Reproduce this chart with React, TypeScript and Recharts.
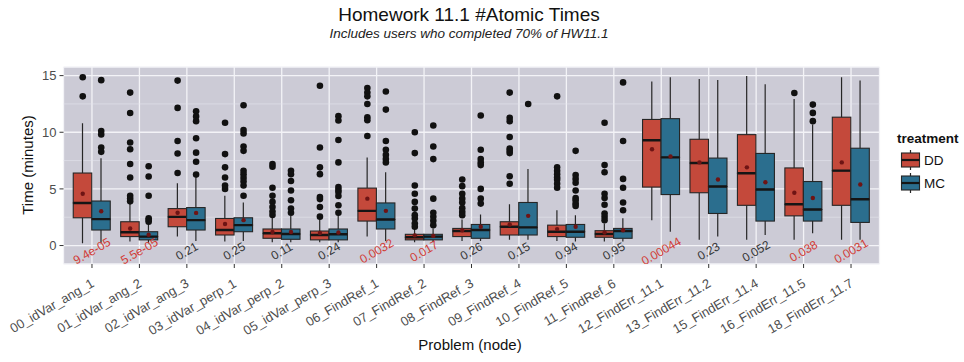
import React from 'react';
import { ComposedChart, Bar, Scatter, XAxis, YAxis, CartesianGrid } from 'recharts';

const categories = [
  '00_idVar_ang_1', '01_idVar_ang_2', '02_idVar_ang_3', '03_idVar_perp_1', '04_idVar_perp_2',
  '05_idVar_perp_3', '06_FindRef_1', '07_FindRef_2', '08_FindRef_3', '09_FindRef_4',
  '10_FindRef_5', '11_FindRef_6', '12_FindErr_11.1', '13_FindErr_11.2', '15_FindErr_11.4',
  '16_FindErr_11.5', '18_FindErr_11.7',
];

const ddMin = [0.2, 0.35, 0.79, 0.35, 0.3, 0.3, 0.79, 0.3, 0.4, 0.5, 0.4, 0.35, 2.24, 0.5, 0.5, 0.5, 0.5];
const ddQ1 = [2.45, 0.79, 1.66, 0.93, 0.64, 0.5, 2.16, 0.5, 0.79, 0.93, 0.79, 0.73, 5.16, 4.66, 3.55, 2.62, 3.55];
const ddMed = [3.76, 1.17, 2.53, 1.37, 1.08, 0.93, 3.06, 0.73, 1.28, 1.66, 1.22, 1.02, 9.29, 7.28, 6.38, 3.64, 6.61];
const ddQ3 = [6.4, 2.1, 3.26, 2.39, 1.46, 1.28, 5.07, 0.99, 1.51, 2.1, 1.8, 1.31, 11.13, 9.38, 9.79, 6.85, 11.33];
const ddMax = [10.8, 3.7, 5.5, 4.4, 2.5, 2.3, 7.78, 1.45, 2.3, 3.64, 3.12, 1.95, 14.48, 14.71, 14.97, 12.93, 14.86];
const ddMean = [4.57, 1.5, 2.9, 1.9, 1.2, 1.1, 4.14, 0.9, 1.35, 1.86, 1.45, 1.15, 8.5, 7.34, 6.9, 4.66, 7.34];
const ddOutliers = [
  [14.85, 13.17],
  [13.5, 11.7, 9.1, 8.5, 7.2, 6.0, 4.4, 4.15, 3.9],
  [14.56, 12.15, 9.23, 8.13, 6.4],
  [10.84, 8.07, 6.9, 6.0, 5.3, 5.0],
  [7.2, 6.95, 5.1, 4.4, 3.85, 3.4, 3.0, 2.7],
  [14.1, 8.65, 6.9, 6.3, 4.28, 4.1, 3.4, 2.55],
  [13.9, 13.5, 13.17, 12.5, 11.33, 11.07, 9.67],
  [10.0, 8.16, 5.3, 4.57, 3.85, 3.26, 2.68, 2.39, 1.95, 1.66],
  [5.83, 5.24, 4.57, 4.14, 3.8, 3.3, 2.97, 2.68],
  [13.5, 11.27, 10.98, 9.58, 8.56, 8.36, 8.16, 6.12, 5.45],
  [13.17, 6.9, 6.6, 6.3, 6.0, 5.8, 5.45, 5.1],
  [10.84, 7.1, 6.47, 4.57, 4.2, 3.6, 2.83, 2.53, 2.24],
  [], [], [],
  [13.46],
  [],
];

const mcMin = [0.2, 0.2, 0.4, 0.4, 0.3, 0.3, 0.4, 0.3, 0.4, 0.5, 0.35, 0.35, 1.22, 0.79, 0.93, 1.08, 0.5];
const mcQ1 = [1.37, 0.5, 1.37, 1.22, 0.55, 0.5, 1.46, 0.5, 0.64, 0.93, 0.73, 0.64, 4.5, 2.83, 2.16, 2.16, 2.04];
const mcMed = [2.33, 0.79, 2.24, 1.8, 1.02, 1.0, 2.3, 0.79, 1.37, 1.6, 1.22, 1.28, 7.78, 5.21, 4.95, 3.18, 4.08];
const mcQ3 = [3.93, 1.22, 3.35, 2.45, 1.46, 1.46, 3.76, 0.99, 1.86, 3.8, 1.86, 1.51, 11.2, 7.72, 8.13, 5.65, 8.59];
const mcMax = [7.7, 1.9, 6.0, 3.8, 2.6, 2.7, 6.47, 1.5, 2.74, 6.76, 2.68, 2.4, 14.86, 14.62, 14.24, 10.69, 14.56];
const mcMean = [3.03, 0.95, 2.88, 2.24, 1.2, 1.15, 3.06, 0.85, 1.66, 2.62, 1.66, 1.35, 7.86, 5.83, 5.59, 4.2, 5.39];
const mcOutliers = [
  [14.6, 10.1, 9.8, 8.65, 8.27],
  [7.0, 6.1, 4.4, 2.4, 2.25, 2.1],
  [11.86, 11.4, 10.98, 9.47, 8.2, 7.4, 6.26],
  [12.38, 10.2, 9.9, 8.74, 8.36, 6.6, 6.3, 5.97, 5.65, 5.3, 4.4],
  [6.6, 6.3, 5.7, 4.86, 4.0, 3.26, 2.9],
  [11.42, 11.04, 9.32, 7.34, 5.16, 4.92, 4.72, 4.37, 3.55, 2.9],
  [13.6, 12.0, 9.23, 8.45, 8.0, 7.63, 7.34],
  [10.6, 8.74, 7.63, 4.14, 2.9, 2.53, 2.18, 1.8],
  [11.48, 8.45, 7.63, 7.34, 7.1, 5.0, 4.14, 3.7],
  [12.5],
  [8.36, 6.23, 5.88, 5.54, 4.86, 4.2, 4.0, 3.7, 3.5],
  [14.4, 9.23, 5.88, 5.1, 3.8, 3.12],
  [], [], [],
  [12.44, 11.71, 10.98],
  [],
];

const pValues = ['9.4e-05', '5.5e-05', '0.21', '0.25', '0.11', '0.24', '0.0032', '0.017', '0.26', '0.15', '0.94', '0.95', '0.00044', '0.23', '0.052', '0.038', '0.0031'];

const yTicks = [0, 5, 10, 15];
const yMinor = [2.5, 7.5, 12.5];

const DD_COLOR = '#c4493b';
const MC_COLOR = '#2b6e8e';
const PANEL = '#cccbd6';
const FONT = '"Liberation Sans", Arial, Helvetica, sans-serif';
const DODGE = 9.25;
const P_LABEL_Y = -0.5;

const rows = categories.map((name, i) => ({
  name,
  ddBase: ddMin[i],
  ddWLo: ddQ1[i] - ddMin[i],
  ddBoxLo: ddMed[i] - ddQ1[i],
  ddBoxHi: ddQ3[i] - ddMed[i],
  ddWHi: ddMax[i] - ddQ3[i],
  mcBase: mcMin[i],
  mcWLo: mcQ1[i] - mcMin[i],
  mcBoxLo: mcMed[i] - mcQ1[i],
  mcBoxHi: mcQ3[i] - mcMed[i],
  mcWHi: mcMax[i] - mcQ3[i],
}));

const ddOutData = categories.flatMap((name, i) => ddOutliers[i].map((v) => ({ name, v })));
const mcOutData = categories.flatMap((name, i) => mcOutliers[i].map((v) => ({ name, v })));
const ddMeanData = categories.map((name, i) => ({ name, v: ddMean[i] }));
const mcMeanData = categories.map((name, i) => ({ name, v: mcMean[i] }));
const pData = categories.map((name, i) => ({ name, v: P_LABEL_Y, label: pValues[i] }));

const Hidden = () => <g />;
const Whisker = (p: any) => (
  <line x1={p.x + p.width / 2} x2={p.x + p.width / 2} y1={p.y} y2={p.y + p.height} stroke="#262626" strokeWidth={1.2} />
);
const BoxLo = (p: any) => (
  <rect x={p.x} y={p.y} width={p.width} height={p.height} fill={p.fill} stroke="#262626" strokeWidth={1.1} />
);
const BoxHi = (p: any) => (
  <g>
    <rect x={p.x} y={p.y} width={p.width} height={p.height} fill={p.fill} stroke="#262626" strokeWidth={1.1} />
    <line x1={p.x} x2={p.x + p.width} y1={p.y + p.height} y2={p.y + p.height} stroke="#151515" strokeWidth={2.4} />
  </g>
);

const outlierShape = (dx: number) => (p: any) => <circle cx={p.cx + dx} cy={p.cy} r={3.3} fill="#111" />;
const meanShape = (dx: number) => (p: any) => <circle cx={p.cx + dx} cy={p.cy} r={2.2} fill="#6e1414" />;
const pLabelShape = (p: any) => {
  const sig = parseFloat(p.payload.label) < 0.05;
  return (
    <text
      x={p.cx}
      y={p.cy}
      textAnchor="middle"
      dominantBaseline="central"
      fontSize={12}
      fontFamily={FONT}
      fill={sig ? '#d23b35' : '#333'}
      transform={`rotate(-30, ${p.cx}, ${p.cy})`}
    >
      {p.payload.label}
    </text>
  );
};

const XTick = (p: any) => {
  const x = p.x + 3;
  const y = p.y + 16;
  return (
    <text x={x} y={y} textAnchor="end" fontSize={13} fontFamily={FONT} fill="#4d4d4d" transform={`rotate(-30, ${x}, ${y})`}>
      {p.payload.value}
    </text>
  );
};

export default function App() {
  return (
    <div style={{ position: 'absolute', left: 0, top: 0, width: 964, height: 362, background: '#fff', fontFamily: FONT }}>
      <ComposedChart
        width={964}
        height={362}
        data={rows}
        margin={{ top: 67, right: 84.5, bottom: 18, left: 3.5 }}
        barGap={0}
        barSize={18.5}
      >
        <CartesianGrid fill={PANEL} stroke="#f3f3f7" strokeWidth={1.3} />
        <CartesianGrid horizontalValues={yMinor} vertical={false} stroke="#e4e4ec" strokeWidth={0.6} />
        <XAxis
          dataKey="name"
          type="category"
          allowDuplicatedCategory={false}
          interval={0}
          height={80}
          padding={{ left: 4.75, right: 4.75 }}
          axisLine={false}
          tickSize={4}
          tickLine={{ stroke: '#333' }}
          tick={<XTick />}
        />
        <YAxis
          type="number"
          domain={[-1.63, 15.76]}
          allowDataOverflow
          ticks={yTicks}
          width={60}
          axisLine={false}
          tickSize={4}
          tickMargin={3}
          tickLine={{ stroke: '#333' }}
          tick={{ fill: '#4d4d4d', fontSize: 13, fontFamily: FONT }}
        />
        <Bar dataKey="ddBase" stackId="dd" fill={DD_COLOR} shape={<Hidden />} isAnimationActive={false} />
        <Bar dataKey="ddWLo" stackId="dd" fill={DD_COLOR} shape={<Whisker />} isAnimationActive={false} />
        <Bar dataKey="ddBoxLo" stackId="dd" fill={DD_COLOR} shape={<BoxLo />} isAnimationActive={false} />
        <Bar dataKey="ddBoxHi" stackId="dd" fill={DD_COLOR} shape={<BoxHi />} isAnimationActive={false} />
        <Bar dataKey="ddWHi" stackId="dd" fill={DD_COLOR} shape={<Whisker />} isAnimationActive={false} />
        <Bar dataKey="mcBase" stackId="mc" fill={MC_COLOR} shape={<Hidden />} isAnimationActive={false} />
        <Bar dataKey="mcWLo" stackId="mc" fill={MC_COLOR} shape={<Whisker />} isAnimationActive={false} />
        <Bar dataKey="mcBoxLo" stackId="mc" fill={MC_COLOR} shape={<BoxLo />} isAnimationActive={false} />
        <Bar dataKey="mcBoxHi" stackId="mc" fill={MC_COLOR} shape={<BoxHi />} isAnimationActive={false} />
        <Bar dataKey="mcWHi" stackId="mc" fill={MC_COLOR} shape={<Whisker />} isAnimationActive={false} />
        <Scatter data={ddOutData} dataKey="v" shape={outlierShape(-DODGE)} isAnimationActive={false} />
        <Scatter data={mcOutData} dataKey="v" shape={outlierShape(DODGE)} isAnimationActive={false} />
        <Scatter data={ddMeanData} dataKey="v" shape={meanShape(-DODGE)} isAnimationActive={false} />
        <Scatter data={mcMeanData} dataKey="v" shape={meanShape(DODGE)} isAnimationActive={false} />
        <Scatter data={pData} dataKey="v" shape={pLabelShape} isAnimationActive={false} />
      </ComposedChart>
      <svg width={964} height={362} style={{ position: 'absolute', left: 0, top: 0, pointerEvents: 'none' }}>
        <text x={469} y={21} textAnchor="middle" fontSize={19} fontFamily={FONT} fill="#111">
          Homework 11.1 #Atomic Times
        </text>
        <text x={469} y={37.5} textAnchor="middle" fontSize={13.5} fontStyle="italic" fontFamily={FONT} fill="#222">
          Includes users who completed 70% of HW11.1
        </text>
        <text x={32.5} y={165} textAnchor="middle" fontSize={15} fontFamily={FONT} fill="#111" transform="rotate(-90, 32.5, 165)">
          Time (minutes)
        </text>
        <text x={470} y={350} textAnchor="middle" fontSize={15} fontFamily={FONT} fill="#111">
          Problem (node)
        </text>
        <text x={897} y={143} fontSize={13.5} fontWeight="bold" fontFamily={FONT} fill="#111">
          treatment
        </text>
        <g>
          <line x1={910.5} x2={910.5} y1={150} y2={170} stroke="#262626" strokeWidth={1.2} />
          <rect x={901.5} y={153} width={18} height={14} fill={DD_COLOR} stroke="#262626" strokeWidth={1.1} />
          <line x1={901.5} x2={919.5} y1={160} y2={160} stroke="#151515" strokeWidth={2.2} />
          <text x={924} y={165} fontSize={13.5} fontFamily={FONT} fill="#111">DD</text>
        </g>
        <g>
          <line x1={910.5} x2={910.5} y1={173} y2={193} stroke="#262626" strokeWidth={1.2} />
          <rect x={901.5} y={176} width={18} height={14} fill={MC_COLOR} stroke="#262626" strokeWidth={1.1} />
          <line x1={901.5} x2={919.5} y1={183} y2={183} stroke="#151515" strokeWidth={2.2} />
          <text x={924} y={188} fontSize={13.5} fontFamily={FONT} fill="#111">MC</text>
        </g>
      </svg>
    </div>
  );
}
